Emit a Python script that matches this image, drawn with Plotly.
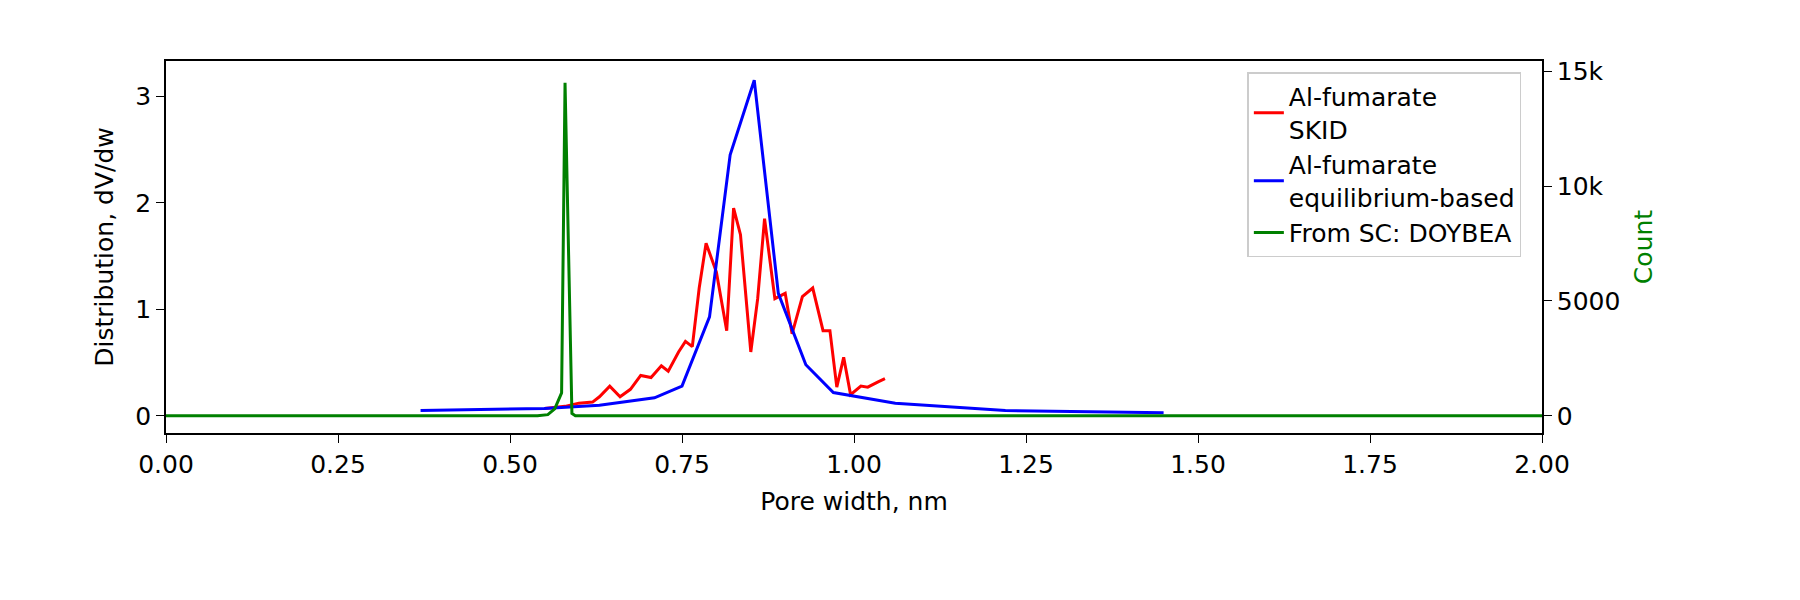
import plotly.graph_objects as go

skid_x = [0.55,0.58,0.60,0.62,0.63,0.645,0.66,0.675,0.69,0.705,0.72,0.73,0.745,0.755,0.765,0.775,0.785,0.80,0.815,0.825,0.835,0.85,0.86,0.87,0.885,0.90,0.91,0.925,0.94,0.955,0.965,0.975,0.985,0.995,1.01,1.02,1.035,1.045]
skid_y = [0.07,0.09,0.12,0.13,0.18,0.28,0.18,0.25,0.38,0.36,0.47,0.42,0.60,0.70,0.65,1.20,1.62,1.35,0.80,1.95,1.70,0.60,1.10,1.85,1.10,1.15,0.77,1.12,1.20,0.80,0.80,0.27,0.55,0.20,0.28,0.27,0.32,0.35]
eq_x = [0.37,0.55,0.63,0.71,0.75,0.79,0.82,0.855,0.89,0.93,0.97,1.06,1.22,1.45]
eq_y = [0.05,0.07,0.10,0.17,0.28,0.93,2.45,3.15,1.15,0.48,0.22,0.12,0.05,0.03]
sc_x = [0.0,0.54,0.555,0.565,0.575,0.58,0.59,0.595,2.0]
sc_y = [0,0,50,300,1000,14500,100,0,0]

fig = go.Figure()
fig.add_trace(go.Scatter(x=skid_x, y=skid_y, mode="lines", line=dict(color="red", width=3), name="Al-fumarate<br>SKID"))
fig.add_trace(go.Scatter(x=eq_x, y=eq_y, mode="lines", line=dict(color="blue", width=3), name="Al-fumarate<br>equilibrium-based"))
fig.add_trace(go.Scatter(x=sc_x, y=sc_y, mode="lines", line=dict(color="green", width=3), name="From SC: DOYBEA", yaxis="y2"))

ax = dict(showgrid=False, zeroline=False, showline=True, linecolor="black", linewidth=1.5,
          ticks="outside", ticklen=8, tickcolor="black", tickfont=dict(size=25, color="black"))
fig.update_layout(
    width=1800, height=600, plot_bgcolor="white", paper_bgcolor="white",
    font=dict(family="DejaVu Sans", color="black"),
    margin=dict(l=158, r=266, t=53, b=175),
    xaxis=dict(**ax, range=[0, 2], tickvals=[0,0.25,0.5,0.75,1.0,1.25,1.5,1.75,2.0],
               ticktext=["0.00","0.25","0.50","0.75","1.00","1.25","1.50","1.75","2.00"],
               title=dict(text="Pore width, nm", font=dict(size=25)), mirror=True),
    yaxis=dict(**ax, range=[-0.16, 3.33], tickvals=[0,1,2,3],
               title=dict(text="Distribution, dV/dw", font=dict(size=25))),
    yaxis2=dict(**ax, overlaying="y", side="right", range=[-750, 15450], tickvals=[0,5000,10000,15000],
                title=dict(text="Count", font=dict(size=25, color="green"))),
    legend=dict(x=0.985, y=0.97, xanchor="right", yanchor="top", bordercolor="#cccccc", borderwidth=1.5,
                bgcolor="rgba(255,255,255,0.8)", font=dict(size=25), tracegroupgap=8),
    showlegend=True,
)
fig.write_html("out.html")
